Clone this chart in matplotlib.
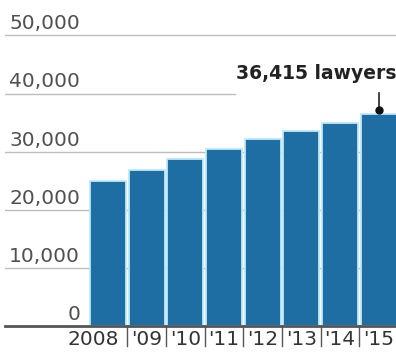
import matplotlib.pyplot as plt
import matplotlib.transforms as mtransforms

# Number of lawyers per year
years = ['2008', "'09", "'10", "'11", "'12", "'13", "'14", "'15"]
lawyers = [25000, 26850, 28700, 30400, 32200, 33600, 35000, 36415]
y_ticks = [0, 10000, 20000, 30000, 40000, 50000]
y_labels = ['0', '10,000', '20,000', '30,000', '40,000', '50,000']

bar_color = '#1f6ea3'
gap_color = '#bde8f6'
grid_color = '#bdbdbd'
text_color = '#505050'

fig = plt.figure(figsize=(3.96, 3.54), dpi=100)
ax = fig.add_axes([5 / 396, 28 / 354, 391 / 396, 326 / 354])
ax.set_xlim(-2.66, 7.45)
ax.set_ylim(0, 56100)
ax.axis('off')

# gridlines (the 40k one stops short to leave room for the callout)
for v in y_ticks[1:]:
    xmax = 0.588 if v == 40000 else 1.0
    ax.axhline(v, xmin=0, xmax=xmax, color=grid_color, lw=1, zorder=0)

# y labels sit just above their gridlines
for v, lab in zip(y_ticks, y_labels):
    ax.annotate(lab, xy=(0.192, v), xycoords=('axes fraction', 'data'),
                xytext=(0, 1.5), textcoords='offset points',
                ha='right', va='bottom', fontsize=14.5, color=text_color)

x = list(range(len(years)))
ax.bar(x, lawyers, width=0.93, color=bar_color, edgecolor=gap_color,
       linewidth=1.3, zorder=2)

# baseline
ax.axhline(0, color='#555555', lw=2, zorder=3, clip_on=False)

# x labels and separators below the baseline
trans = mtransforms.blended_transform_factory(ax.transData, ax.transAxes)
for i, lab in enumerate(years):
    if i == 0:
        ax.text(i + 0.3, -0.012, lab, transform=trans, ha='right', va='top',
                fontsize=14.5, color='#333333')
    else:
        ax.text(i, -0.012, lab, transform=trans, ha='center', va='top',
                fontsize=14.5, color='#333333')
for i in range(len(years) - 1):
    ax.plot([i + 0.5, i + 0.5], [0, -0.06], transform=trans, color='#555555',
            lw=1, clip_on=False)

# callout for the latest year
last = lawyers[-1]
xi = len(years) - 1
ax.text(1.0, 43500, f'{last:,} lawyers', transform=ax.get_yaxis_transform(),
        ha='right', va='center', fontsize=13.5, fontweight='bold',
        color='#222222')
ax.plot([xi, xi], [40100, last + 800], color='#222222', lw=1.2, zorder=4)
ax.plot(xi, last + 800, 'o', color='#111111', ms=5, zorder=4)

fig.savefig('out.png', dpi=100)
